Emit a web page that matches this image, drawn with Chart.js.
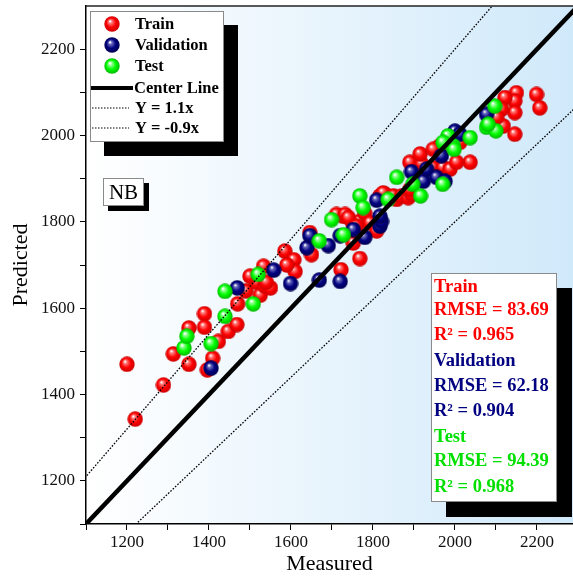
<!DOCTYPE html>
<html>
<head>
<meta charset="utf-8">
<script src="https://cdn.jsdelivr.net/npm/chart.js@4.4.0/dist/chart.umd.min.js"></script>
<style>
html,body{margin:0;padding:0;background:#fff;overflow:hidden;}
#wrap{width:573px;height:577px;position:relative;}
</style>
</head>
<body>
<div id="wrap"><canvas id="c" width="573" height="577"></canvas></div>
<script>
// ---- data (measured, predicted) ----
const trainX = [1200,1220,1289,1313,1351,1351,1389,1389,1409,1396,1423,1447,1468,1470,1490,1515,1525,1500,1533,1537,1550,1540,1585,1607,1610,1590,1646,1650,1722,1727,1711,1732,1752,1768,1752,1768,1740,1760,1780,1793,1809,1817,1829,1858,1825,1850,1870,1886,1894,1890,1890,1919,1915,1947,1971,1988,2037,1963,2004,2012,1947,2085,2118,2146,2150,2146,2146,2122,2114,2199,2207,2102];
const trainY = [1470,1343,1422,1494,1554,1470,1587,1556,1484,1457,1523,1546,1562,1610,1640,1660,1630,1674,1697,1651,1647,1660,1732,1712,1685,1700,1775,1724,1689,1813,1817,1817,1795,1801,1751,1715,1810,1790,1820,1798,1779,1860,1864,1852,1867,1860,1860,1856,1864,1938,1875,1934,1957,1926,1926,1922,1938,1976,1938,1984,1968,2026,2022,2003,2099,2080,2053,2088,2061,2095,2064,2042];
const valX = [1405,1469,1558,1599,1639,1646,1669,1691,1720,1720,1752,1780,1817,1821,1809,1817,1894,1923,1931,1955,1976,1967,2000,2012,2077];
const valY = [1461,1647,1688,1657,1740,1768,1665,1745,1662,1768,1782,1764,1790,1801,1850,1813,1916,1894,1922,1903,1894,1953,2010,2003,2049];
const testX = [1339,1346,1405,1439,1439,1508,1520,1669,1699,1728,1768,1776,1837,1858,1897,1916,1970,1983,1971,1996,1998,2037,2077,2100,2097,2081];
const testY = [1508,1535,1518,1581,1639,1610,1678,1756,1805,1770,1860,1833,1852,1903,1887,1860,1887,1999,1984,1976,1968,1995,2019,2011,2068,2026];
// reference lines
const lineX = [1000, 2400];
const centerSlope = 1.0, upperSlope = 1.1, lowerSlope = 0.9;
// axis
const axisMin = 1100, xMax = 2288, yMax = 2300;
const tickValues = [1100,1200,1300,1400,1500,1600,1700,1800,1900,2000,2100,2200];
// legend / stats texts
const legendNames = ['Train','Validation','Test','Center Line','Y = 1.1x','Y = -0.9x'];
const statsLines = [
  ['Train','#ff0000'],['RMSE = 83.69','#ff0000'],['R\u00B2 = 0.965','#ff0000'],
  ['Validation','#000080'],['RMSE = 62.18','#000080'],['R\u00B2 = 0.904','#000080'],
  ['Test','#00e000'],['RMSE = 94.39','#00e000'],['R\u00B2 = 0.968','#00e000']
];
const modelName = 'NB';

const zip = (xs, ys) => xs.map((x, i) => ({x: x, y: ys[i]}));

function sphere(light, base, dark, d) {
  const c = document.createElement('canvas');
  c.width = d; c.height = d;
  const g = c.getContext('2d');
  const r = d / 2;
  const grad = g.createRadialGradient(r * 0.75, r * 0.65, 0.5, r, r, r);
  grad.addColorStop(0, '#ffffff');
  grad.addColorStop(0.15, light);
  grad.addColorStop(0.55, base);
  grad.addColorStop(1, dark);
  g.fillStyle = grad;
  g.beginPath(); g.arc(r, r, r - 0.3, 0, Math.PI * 2); g.fill();
  return c;
}
const SZ = 16;
const redBall = sphere('#ff8080', '#ff0000', '#c80000', SZ);
const navyBall = sphere('#7070c0', '#000080', '#000050', SZ);
const greenBall = sphere('#a0ffa0', '#00ff00', '#00b400', SZ);

const serif = "'Liberation Serif', 'Times New Roman', serif";

const bgPlugin = {
  id: 'bg',
  beforeDraw(chart) {
    const {ctx, chartArea: a} = chart;
    const g = ctx.createLinearGradient(a.left, 0, a.right, 0);
    g.addColorStop(0, '#ffffff');
    g.addColorStop(1, '#d0e9fa');
    ctx.save();
    ctx.fillStyle = g;
    ctx.fillRect(a.left, a.top, a.right - a.left, a.bottom - a.top);
    ctx.restore();
  }
};

function shadowBox(ctx, x1, y1, x2, y2, off) {
  ctx.fillStyle = '#000';
  ctx.fillRect(x1 + off, y1 + off, x2 - x1, y2 - y1);
  ctx.fillStyle = '#fff';
  ctx.fillRect(x1, y1, x2 - x1, y2 - y1);
  ctx.strokeStyle = '#8a8a8a';
  ctx.lineWidth = 1;
  ctx.strokeRect(x1 + 0.5, y1 + 0.5, x2 - x1 - 1, y2 - y1 - 1);
}

const overlayPlugin = {
  id: 'overlay',
  afterDraw(chart) {
    const {ctx, chartArea: a} = chart;
    ctx.save();
    // top frame
    ctx.strokeStyle = '#222';
    ctx.lineWidth = 1.5;
    ctx.beginPath(); ctx.moveTo(a.left, a.top); ctx.lineTo(a.right, a.top); ctx.stroke();

    // legend box
    shadowBox(ctx, 90, 11, 224, 142, 14);
    const rows = [24, 45, 66, 88, 108, 128];
    const balls = [redBall, navyBall, greenBall];
    ctx.font = 'bold 16.5px ' + serif;
    ctx.textBaseline = 'middle';
    ctx.textAlign = 'left';
    ctx.fillStyle = '#000';
    for (let i = 0; i < 6; i++) {
      const y = rows[i];
      if (i < 3) {
        ctx.drawImage(balls[i], 112 - SZ / 2, y - SZ / 2);
        ctx.fillStyle = '#000';
        ctx.fillText(legendNames[i], 135, y + 1);
      } else if (i === 3) {
        ctx.strokeStyle = '#000'; ctx.lineWidth = 4; ctx.setLineDash([]);
        ctx.beginPath(); ctx.moveTo(91, y); ctx.lineTo(133, y); ctx.stroke();
        ctx.fillText(legendNames[i], 134, y + 1);
      } else {
        ctx.strokeStyle = '#000'; ctx.lineWidth = 1.2; ctx.setLineDash([1.5, 1.5]);
        ctx.beginPath(); ctx.moveTo(92, y); ctx.lineTo(129, y); ctx.stroke();
        ctx.setLineDash([]);
        ctx.fillText(legendNames[i], 135, y + 1);
      }
    }

    // NB box
    shadowBox(ctx, 103, 178, 144, 206, 5);
    ctx.font = '21px ' + serif;
    ctx.textAlign = 'center';
    ctx.fillStyle = '#000';
    ctx.fillText(modelName, 123.5, 193);

    // stats box
    shadowBox(ctx, 431, 273, 557, 502, 15);
    ctx.font = 'bold 18.5px ' + serif;
    ctx.textAlign = 'left';
    const sy = [287, 310, 335, 361, 386, 411, 437, 461, 487];
    statsLines.forEach((s, i) => {
      ctx.fillStyle = s[1];
      ctx.fillText(s[0], 434, sy[i]);
    });
    ctx.restore();
  }
};

function axisCommon(titleText, isX) {
  return {
    type: 'linear',
    position: isX ? 'bottom' : 'left',
    min: axisMin,
    max: isX ? xMax : yMax,
    afterBuildTicks(scale) {
      scale.ticks = tickValues.map(v => ({value: v}));
    },
    afterFit(scale) {
      if (isX) scale.height = 53; else scale.width = 86;
      scale.paddingTop = 0; scale.paddingBottom = 0;
      scale.paddingLeft = 0; scale.paddingRight = 0;
    },
    grid: {drawOnChartArea: false, drawTicks: true, tickLength: 6, color: '#000', lineWidth: 1},
    border: {display: true, color: '#000', width: 1.5},
    ticks: {
      autoSkip: false, maxRotation: 0, color: '#111',
      padding: isX ? 2 : 5,
      font: {family: serif, size: 17},
      callback: v => (v % 200 === 0 ? String(v) : '')
    },
    title: {
      display: true, text: titleText, color: '#000',
      font: {family: serif, size: 22},
      padding: isX ? {top: 0, bottom: 0} : {top: 8, bottom: 0}
    }
  };
}

new Chart(document.getElementById('c'), {
  type: 'scatter',
  data: {
    datasets: [
      {label: 'Train', data: zip(trainX, trainY), pointStyle: redBall, order: 5},
      {label: 'Validation', data: zip(valX, valY), pointStyle: navyBall, order: 4},
      {label: 'Test', data: zip(testX, testY), pointStyle: greenBall, order: 3},
      {type: 'line', label: 'Center Line', data: lineX.map(x => ({x: x, y: centerSlope * x})),
        borderColor: '#000', borderWidth: 4.5, pointRadius: 0, clip: 0, order: 0, fill: false},
      {type: 'line', label: 'Y = 1.1x', data: lineX.map(x => ({x: x, y: upperSlope * x})),
        borderColor: '#000', borderWidth: 1.3, borderDash: [1.6, 1.6], pointRadius: 0, clip: 0, order: 1, fill: false},
      {type: 'line', label: 'Y = -0.9x', data: lineX.map(x => ({x: x, y: lowerSlope * x})),
        borderColor: '#000', borderWidth: 1.3, borderDash: [1.6, 1.6], pointRadius: 0, clip: 0, order: 1, fill: false}
    ]
  },
  options: {
    responsive: false,
    animation: false,
    layout: {autoPadding: false, padding: {top: 6, right: 0, left: 0, bottom: 0}},
    plugins: {legend: {display: false}, tooltip: {enabled: false}, title: {display: false}},
    scales: {
      x: axisCommon('Measured', true),
      y: axisCommon('Predicted', false)
    }
  },
  plugins: [bgPlugin, overlayPlugin]
});
</script>
</body>
</html>
